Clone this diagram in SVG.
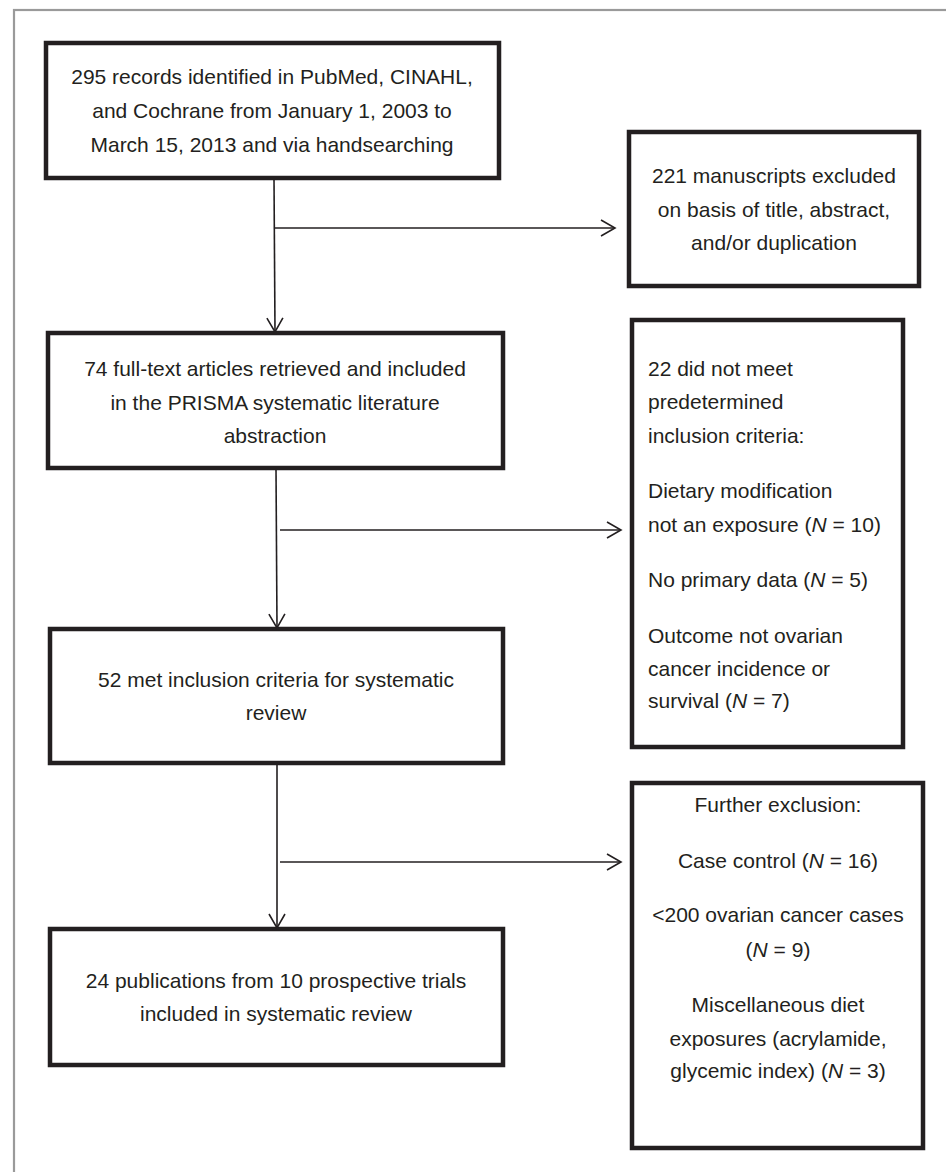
<svg xmlns="http://www.w3.org/2000/svg" width="946" height="1172" viewBox="0 0 946 1172">
<style>
.box{fill:#fff;stroke:#231f20;stroke-width:4.5;}
.t{font-family:"Liberation Sans",Arial,Helvetica,sans-serif;font-size:21px;fill:#231f20;}
.c{text-anchor:middle;}
.l{text-anchor:start;}
.conn{stroke:#231f20;stroke-width:1.6;fill:none;}
.i{font-style:italic;}
</style>
<defs>
<marker id="arr" markerUnits="userSpaceOnUse" markerWidth="20" markerHeight="20" viewBox="0 0 20 20" refX="16" refY="10" orient="auto">
<path d="M2,2 L16,10 L2,18" fill="none" stroke="#231f20" stroke-width="1.6"/>
</marker>
</defs>
<rect x="0" y="0" width="946" height="1172" fill="#fff"/>
<rect x="14" y="10" width="1000" height="1300" fill="none" stroke="#9a9a9a" stroke-width="2.2"/>

<g id="connectors">
<line class="conn" x1="274" y1="178" x2="275" y2="332" marker-end="url(#arr)"/>
<line class="conn" x1="274" y1="228" x2="615" y2="228" marker-end="url(#arr)"/>
<line class="conn" x1="276" y1="468" x2="277" y2="628" marker-end="url(#arr)"/>
<line class="conn" x1="280" y1="530" x2="621" y2="530" marker-end="url(#arr)"/>
<line class="conn" x1="277" y1="763" x2="277" y2="928" marker-end="url(#arr)"/>
<line class="conn" x1="280" y1="862" x2="621" y2="862" marker-end="url(#arr)"/>
</g>

<g id="node-records">
<rect class="box" x="46" y="43" width="453" height="135"/>
<text class="t c" x="272" y="84">295 records identified in PubMed, CINAHL,</text>
<text class="t c" x="272" y="118">and Cochrane from January 1, 2003 to</text>
<text class="t c" x="272" y="152">March 15, 2013 and via handsearching</text>
</g>

<g id="node-excluded221">
<rect class="box" x="629" y="132" width="290" height="154"/>
<text class="t c" x="774" y="183">221 manuscripts excluded</text>
<text class="t c" x="774" y="217">on basis of title, abstract,</text>
<text class="t c" x="774" y="250">and/or duplication</text>
</g>

<g id="node-fulltext">
<rect class="box" x="48" y="333" width="455" height="135"/>
<text class="t c" x="275" y="376">74 full-text articles retrieved and included</text>
<text class="t c" x="275" y="410">in the PRISMA systematic literature</text>
<text class="t c" x="275" y="443">abstraction</text>
</g>

<g id="node-notmeet">
<rect class="box" x="632" y="320" width="271" height="427"/>
<text class="t l" x="648" y="376">22 did not meet</text>
<text class="t l" x="648" y="409">predetermined</text>
<text class="t l" x="648" y="443">inclusion criteria:</text>
<text class="t l" x="648" y="498">Dietary modification</text>
<text class="t l" x="648" y="532">not an exposure (<tspan class="i">N</tspan> = 10)</text>
<text class="t l" x="648" y="587">No primary data (<tspan class="i">N</tspan> = 5)</text>
<text class="t l" x="648" y="643">Outcome not ovarian</text>
<text class="t l" x="648" y="676">cancer incidence or</text>
<text class="t l" x="648" y="708">survival (<tspan class="i">N</tspan> = 7)</text>
</g>

<g id="node-met52">
<rect class="box" x="50" y="629" width="453" height="134"/>
<text class="t c" x="276" y="687">52 met inclusion criteria for systematic</text>
<text class="t c" x="276" y="720">review</text>
</g>

<g id="node-further">
<rect class="box" x="632" y="783" width="291" height="365"/>
<text class="t c" x="778" y="812">Further exclusion:</text>
<text class="t c" x="778" y="868">Case control (<tspan class="i">N</tspan> = 16)</text>
<text class="t c" x="778" y="922">&lt;200 ovarian cancer cases</text>
<text class="t c" x="778" y="957">(<tspan class="i">N</tspan> = 9)</text>
<text class="t c" x="778" y="1012">Miscellaneous diet</text>
<text class="t c" x="778" y="1046">exposures (acrylamide,</text>
<text class="t c" x="778" y="1078">glycemic index) (<tspan class="i">N</tspan> = 3)</text>
</g>

<g id="node-final24">
<rect class="box" x="50" y="929" width="453" height="136"/>
<text class="t c" x="276" y="988">24 publications from 10 prospective trials</text>
<text class="t c" x="276" y="1021">included in systematic review</text>
</g>
</svg>
